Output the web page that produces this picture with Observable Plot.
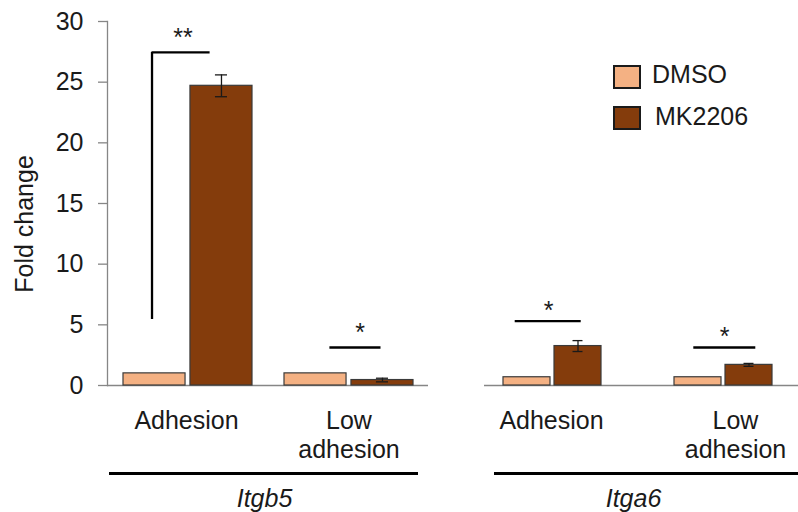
<!DOCTYPE html>
<html><head><meta charset="utf-8">
<script src="https://cdn.jsdelivr.net/npm/d3@7"></script>
<script src="https://cdn.jsdelivr.net/npm/@observablehq/plot@0.6"></script>
<style>
body{margin:0;background:#fff;}
#chart{position:relative;width:798px;height:512px;display:flex;font-family:"Liberation Sans",Arial,sans-serif;color:#1a1a1a;}
.sw{position:absolute;width:28px;height:24px;box-sizing:border-box;border:2px solid #1a1a1a;}
.lt{position:absolute;font-size:25px;line-height:25px;white-space:nowrap;}
</style></head><body><div id="chart"></div>
<script>
// ---- data ----
const conditions = ["Adhesion", "Low adhesion"];
const conditionLabels = ["Adhesion", "Low\nadhesion"];
const treatments = ["DMSO", "MK2206"];
const treatmentColors = ["#F4B183", "#843C0C"];
const yTicks = [0, 5, 10, 15, 20, 25, 30];
const yLabel = "Fold change";

const itgb5DMSO = [1.0, 1.0];
const itgb5MK2206 = [24.7, 0.45];
const itgb5MK2206Err = [0.9, 0.15];
const itgb5SigY = [27.45, 3.13];
const itgb5SigLabel = ["**", "*"];
const itgb5BracketBase = 5.44;

const itga6DMSO = [0.68, 0.68];
const itga6MK2206 = [3.25, 1.7];
const itga6MK2206Err = [0.45, 0.12];
const itga6SigY = [5.3, 3.13];
const itga6SigLabel = ["*", "*"];

const axisGray = "#868686";
const ink = "#1a1a1a";
const font = "Liberation Sans, Arial, sans-serif";

function panel(o) {
  const rows = conditions.map((c, i) => ({
    cond: c, label: conditionLabels[i], dmso: o.dmso[i], mk: o.mk[i],
    lo: o.mk[i] - o.err[i], hi: o.mk[i] + o.err[i], sigY: o.sigY[i], sig: o.sigLabel[i]
  }));
  const bw = d3.scaleBand().domain(conditions)
    .range([o.marginLeft, o.width - o.marginRight])
    .paddingInner(o.paddingInner).paddingOuter(o.paddingOuter).bandwidth();
  const barW = (bw - o.gap) / 2;
  const off = (bw - barW) / 2;
  const marks = [
    Plot.ruleY([0], {stroke: axisGray, strokeWidth: 1.3, insetRight: o.baseInsetRight}),
    Plot.barY(rows, {x: "cond", y: "dmso", fill: () => treatments[0], stroke: "#3a3a3a", strokeWidth: 1.2, insetRight: bw - barW}),
    Plot.barY(rows, {x: "cond", y: "mk", fill: () => treatments[1], stroke: "#3a3a3a", strokeWidth: 1.2, insetLeft: bw - barW}),
    Plot.ruleX(rows, {x: "cond", y1: "lo", y2: "hi", dx: off, stroke: ink, strokeWidth: 1.3}),
    Plot.tickY(rows, {x: "cond", y: "lo", insetLeft: bw - barW / 2 - o.capHalf, insetRight: barW / 2 - o.capHalf, stroke: ink, strokeWidth: 1.3}),
    Plot.tickY(rows, {x: "cond", y: "hi", insetLeft: bw - barW / 2 - o.capHalf, insetRight: barW / 2 - o.capHalf, stroke: ink, strokeWidth: 1.3}),
  ];
  rows.forEach((r, i) => {
    const s = o.sig[i];
    marks.push(Plot.tickY([r], {x: "cond", y: "sigY", insetLeft: s.l, insetRight: s.r, stroke: "#000", strokeWidth: 2.3}));
    marks.push(Plot.text([r], {x: "cond", y: "sigY", text: "sig", dx: s.dx, dy: o.starDy, fontSize: 25, fill: ink}));
    marks.push(Plot.text([r], {x: "cond", text: "label", frameAnchor: "bottom", lineAnchor: "top", dy: 23, dx: o.labelDx[i], fontSize: 25, lineHeight: 1.16, fill: ink}));
  });
  if (o.bracketBase != null) {
    marks.push(Plot.ruleX([rows[0]], {x: "cond", y1: () => o.bracketBase, y2: "sigY", dx: -off - 2.5, stroke: "#000", strokeWidth: 2.3}));
  }
  marks.push(Plot.ruleY([0], {dy: 88, stroke: "#000", strokeWidth: 2.8, insetLeft: o.geneInsetLeft, insetRight: o.geneInsetRight}));
  marks.push(Plot.text([o.gene], {text: d => d, frameAnchor: "bottom", lineAnchor: "middle", dy: 113, dx: o.geneDx, fontStyle: "italic", fontSize: 25, fill: ink}));
  if (o.yAxis) {
    marks.push(Plot.axisY({ticks: yTicks, tickSize: 9, tickPadding: 15, fontSize: 25, stroke: axisGray, fill: ink, label: null, strokeWidth: 1.3}));
    marks.push(Plot.frame({anchor: "left", stroke: axisGray, strokeWidth: 1.3}));
    marks.push(Plot.text([yLabel], {text: d => d, frameAnchor: "left", rotate: -90, textAnchor: "middle", lineAnchor: "middle", dx: -83, dy: 20.5, fontSize: 25, fill: ink}));
  }
  return Plot.plot({
    width: o.width, height: 512,
    marginLeft: o.marginLeft, marginRight: o.marginRight, marginTop: 21, marginBottom: 127,
    style: {fontFamily: font, fontSize: "25px", color: ink, background: "transparent", overflow: "visible"},
    x: {domain: conditions, paddingInner: o.paddingInner, paddingOuter: o.paddingOuter, axis: null},
    y: {domain: [0, 30], axis: null},
    color: {domain: treatments, range: treatmentColors},
    marks
  });
}

const left = panel({
  gene: "Itgb5", dmso: itgb5DMSO, mk: itgb5MK2206, err: itgb5MK2206Err,
  sigY: itgb5SigY, sigLabel: itgb5SigLabel, bracketBase: itgb5BracketBase,
  width: 440, marginLeft: 107, marginRight: 12, paddingInner: 0.2, paddingOuter: 0.096, gap: 5,
  capHalf: 6, starDy: -14.5, yAxis: true,
  sig: [{l: 28.5, r: 42.4, dx: -5}, {l: 45.4, r: 32.5, dx: 11}],
  labelDx: [-1.5, 0], baseInsetRight: 0, geneInsetLeft: 2, geneInsetRight: 10, geneDx: -3.5
});
const right = panel({
  gene: "Itga6", dmso: itga6DMSO, mk: itga6MK2206, err: itga6MK2206Err,
  sigY: itga6SigY, sigLabel: itga6SigLabel, bracketBase: null,
  width: 358, marginLeft: 44, marginRight: 8, paddingInner: 0.428, paddingOuter: 0.107, gap: 4,
  capHalf: 5, starDy: -10.5, yAxis: false,
  sig: [{l: 11.7, r: 20.3, dx: -4}, {l: 19.3, r: 16.7, dx: 1}],
  labelDx: [-1, 12], baseInsetRight: -8, geneInsetLeft: 10, geneInsetRight: -8, geneDx: -4
});

const chart = document.getElementById("chart");
chart.append(left, right);

// legend
const legendItems = [
  {name: treatments[0], color: treatmentColors[0], swTop: 65, textTop: 61.8, textLeft: 652},
  {name: treatments[1], color: treatmentColors[1], swTop: 106, textTop: 103.8, textLeft: 655}
];
for (const it of legendItems) {
  const sw = document.createElement("div");
  sw.className = "sw";
  sw.style.left = "613px"; sw.style.top = it.swTop + "px"; sw.style.background = it.color;
  const t = document.createElement("div");
  t.className = "lt";
  t.style.left = it.textLeft + "px"; t.style.top = it.textTop + "px";
  t.textContent = it.name;
  chart.append(sw, t);
}
</script></body></html>
